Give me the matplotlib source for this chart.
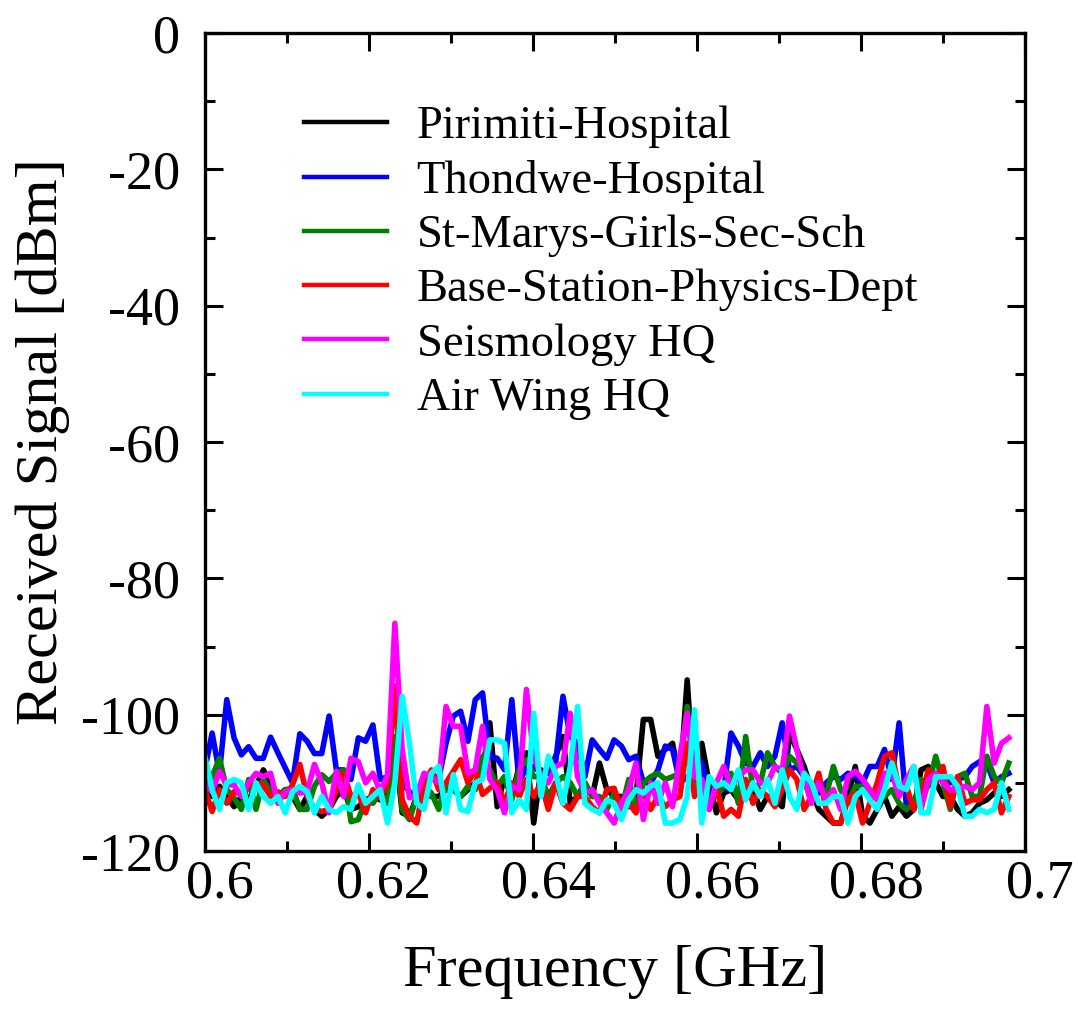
import numpy as np
import matplotlib.pyplot as plt
from matplotlib.ticker import MultipleLocator
from matplotlib.transforms import ScaledTranslation

plt.rcParams['font.family'] = ['Liberation Serif', 'DejaVu Serif']

# sweep frequencies [GHz] (111 points, 0.6 - 0.698)
freq = np.linspace(0.6, 0.698, 111)

labels = ["Pirimiti-Hospital", "Thondwe-Hospital", "St-Marys-Girls-Sec-Sch",
          "Base-Station-Physics-Dept", "Seismology HQ", "Air Wing HQ"]
colors = ['#000000', '#0000ff', '#008000', '#ff0000', '#ff00ff', '#00ffff']

# received signal [dBm]
pirimiti = [-110.0, -112.0, -110.5, -112.0, -113.5, -112.0, -112.5, -110.5, -108.1, -110.0,
            -112.0, -111.0, -112.0, -113.9, -112.0, -113.9, -114.9, -113.9, -112.0,
            -111.0, -113.9, -113.5, -112.5, -112.0, -112.5, -111.0, -104.2, -114.4, -114.9,
            -112.0, -111.0, -112.0, -112.0, -111.0, -111.0, -112.0, -111.0, -110.0,
            -108.1, -101.2, -113.5, -109.1, -112.0, -107.6, -105.6, -115.9, -108.1, -108.6,
            -106.1, -103.2, -113.0, -112.0, -110.0, -112.0, -107.1, -111.0, -112.0,
            -112.0, -113.5, -112.0, -100.7, -100.7, -106.1, -105.1, -104.2, -110.0, -94.9,
            -111.0, -104.2, -110.0, -114.4, -111.5, -111.0, -112.5, -112.0,
            -111.0, -113.9, -112.0, -112.5, -113.5, -102.7, -105.1, -107.6, -111.0, -113.9,
            -114.9, -115.9, -115.9, -112.0, -107.6, -114.9, -115.9, -113.9, -112.0,
            -114.9, -113.5, -114.9, -113.9, -108.1, -107.6, -110.0, -112.0, -112.0, -113.9,
            -114.9, -114.4, -113.0, -112.5, -111.5, -112.0, -111.0]

thondwe = [-108.1, -102.7, -108.6, -97.8, -103.4, -105.9, -104.7, -106.4, -106.4, -103.3,
           -105.6, -107.8, -110.0, -102.8, -103.9, -105.7, -105.7, -100.2, -108.1,
           -108.1, -109.5, -103.4, -103.9, -101.5, -109.5, -109.1, -105.1, -110.0, -111.3,
           -112.0, -110.0, -108.6, -109.5, -104.2, -100.2, -99.5, -103.9, -97.8,
           -96.8, -106.1, -106.4, -108.1, -97.8, -110.0, -107.6, -107.6, -108.6, -108.6,
           -107.1, -97.3, -103.2, -104.2, -109.1, -103.7, -105.1, -106.4, -103.7,
           -104.6, -106.6, -106.1, -110.0, -110.0, -108.1, -104.6, -105.1, -110.0, -109.1,
           -110.0, -107.1, -112.5, -110.0, -111.0, -102.7, -104.6, -107.1,
           -107.6, -105.6, -107.6, -106.1, -101.2, -108.1, -107.6, -109.1, -111.0, -111.5,
           -110.0, -109.1, -109.5, -108.6, -109.1, -110.0, -107.6, -107.6, -105.1,
           -109.5, -101.2, -113.5, -112.5, -113.0, -110.0, -108.6, -109.1, -110.0, -109.5,
           -109.1, -107.6, -106.9, -107.1, -110.0, -109.1, -108.6]

st_marys = [-110.5, -109.1, -106.4, -111.0, -112.2, -113.9, -109.5, -113.9, -109.5, -111.3,
            -112.0, -111.0, -110.8, -113.9, -113.9, -110.5, -108.8, -109.8, -108.6,
            -108.1, -115.7, -115.4, -112.5, -113.0, -111.3, -113.0, -103.2, -113.9, -115.4,
            -112.0, -110.5, -111.5, -113.9, -110.0, -111.0, -112.0, -110.5, -111.0,
            -106.1, -108.1, -110.5, -109.1, -112.5, -108.1, -106.6, -109.1, -109.1, -112.0,
            -110.0, -109.1, -110.0, -112.0, -110.0, -112.0, -112.0, -113.9, -111.5,
            -113.9, -109.5, -113.9, -110.0, -109.1, -108.6, -109.5, -109.1, -108.6, -98.8,
            -109.5, -111.0, -112.0, -112.0, -110.5, -108.6, -113.0, -103.2,
            -111.0, -110.0, -105.6, -107.6, -108.6, -106.1, -107.1, -108.6, -112.0, -110.0,
            -112.0, -107.6, -111.0, -113.0, -110.5, -110.5, -112.0, -111.0, -112.0,
            -111.0, -113.0, -113.9, -113.0, -109.5, -110.5, -106.1, -110.0, -113.9, -109.1,
            -108.6, -112.0, -112.0, -106.1, -109.1, -110.0, -107.1]

base_station = [-111.0, -114.2, -111.0, -113.0, -111.3, -111.7, -110.5, -110.0, -110.3, -112.0,
                -111.3, -112.0, -110.3, -107.3, -112.0, -113.9, -114.2, -113.9, -111.0,
                -108.6, -112.0, -111.5, -114.4, -111.0, -112.2, -110.0, -95.8, -112.5, -114.9,
                -115.9, -110.0, -108.1, -111.0, -110.0, -108.3, -106.6, -110.0, -108.1,
                -111.7, -110.8, -110.0, -113.0, -110.0, -112.0, -109.5, -112.0, -110.0, -113.9,
                -110.0, -113.0, -113.9, -112.0, -112.0, -113.5, -114.4, -111.0, -110.8,
                -113.9, -113.0, -114.4, -111.0, -113.9, -112.0, -113.5, -112.5, -112.0, -104.2,
                -112.0, -109.5, -113.9, -110.5, -114.9, -113.9, -114.9, -109.5,
                -113.0, -111.0, -112.0, -113.5, -111.0, -108.1, -109.5, -113.9, -112.0, -108.6,
                -113.9, -115.9, -115.9, -112.5, -111.5, -115.9, -113.0, -110.0, -106.1,
                -105.6, -111.0, -110.5, -113.9, -112.0, -108.1, -110.0, -107.6, -113.5, -109.1,
                -113.0, -112.5, -112.5, -111.0, -110.0, -114.4, -112.0]

seismology = [-110.0, -111.3, -108.3, -110.3, -110.3, -112.0, -110.0, -108.6, -109.1, -108.6,
              -113.0, -111.3, -111.0, -111.5, -111.3, -107.3, -110.0, -114.4, -108.3,
              -112.0, -106.4, -106.9, -110.0, -108.6, -111.3, -108.8, -86.6, -105.1, -112.2,
              -111.7, -108.6, -109.3, -110.0, -98.8, -101.7, -101.7, -108.6, -108.1,
              -101.7, -109.5, -111.0, -114.4, -110.5, -111.0, -96.3, -106.1, -109.1, -110.0,
              -107.6, -107.1, -99.8, -109.1, -111.5, -111.0, -113.0, -114.4, -115.9,
              -113.0, -111.0, -107.1, -115.4, -110.0, -113.0, -110.0, -113.5, -106.1, -99.8,
              -109.1, -109.5, -113.9, -110.0, -107.6, -110.5, -109.1, -108.1,
              -108.1, -110.0, -110.0, -107.6, -108.1, -100.2, -105.1, -109.5, -113.0, -110.0,
              -112.5, -111.0, -113.9, -109.1, -108.3, -109.5, -111.0, -112.5, -108.6,
              -108.6, -112.0, -109.5, -107.6, -113.9, -109.5, -108.6, -110.0, -111.0, -111.0,
              -110.5, -111.0, -110.0, -98.8, -107.1, -104.2, -103.4]

air_wing = [-106.1, -111.0, -113.9, -110.0, -109.5, -110.0, -113.9, -110.0, -112.0, -113.0,
            -112.0, -114.4, -111.3, -110.5, -111.3, -114.4, -112.0, -113.9, -114.4,
            -113.5, -113.9, -110.3, -113.0, -112.0, -111.0, -115.9, -110.0, -97.3, -104.2,
            -113.0, -113.9, -108.6, -107.6, -114.4, -108.8, -113.9, -114.2, -110.0,
            -109.5, -103.7, -103.7, -104.2, -114.4, -112.5, -113.9, -99.8, -112.0, -106.1,
            -108.6, -113.0, -107.6, -98.8, -113.0, -113.9, -114.4, -112.5, -113.0,
            -115.4, -112.5, -111.0, -111.5, -110.5, -110.0, -115.9, -115.9, -115.4, -112.0,
            -99.3, -115.9, -109.1, -110.5, -110.0, -111.0, -108.1, -112.5,
            -110.0, -112.0, -109.5, -113.0, -108.1, -112.0, -113.9, -108.6, -110.0, -113.0,
            -113.0, -112.0, -112.0, -115.9, -112.0, -111.0, -112.5, -113.9, -111.0,
            -107.1, -110.5, -111.0, -107.6, -114.4, -114.4, -109.1, -109.1, -109.1, -110.5,
            -114.9, -114.9, -113.9, -114.4, -113.9, -110.0, -113.9]

series = [pirimiti, thondwe, st_marys, base_station, seismology, air_wing]

# --- figure ---
fig = plt.figure(figsize=(10.78, 10.16), dpi=100)
ax = fig.add_axes([0.190, 0.1624, 0.761, 0.8051])

for vals, lab, col in zip(series, labels, colors):
    ax.plot(freq, vals, color=col, lw=4.0, label=lab)

ax.set_xlim(0.6, 0.7)
ax.set_ylim(-120, 0)
ax.xaxis.set_major_locator(MultipleLocator(0.02))
ax.xaxis.set_minor_locator(MultipleLocator(0.01))
ax.yaxis.set_major_locator(MultipleLocator(20))
ax.yaxis.set_minor_locator(MultipleLocator(10))
ax.xaxis.set_major_formatter(plt.FuncFormatter(lambda v, p: f"{v:g}"))
ax.yaxis.set_major_formatter(plt.FuncFormatter(lambda v, p: f"{v:g}"))

for s in ax.spines.values():
    s.set_linewidth(2.4)
ax.tick_params(which='both', direction='in', top=True, right=True, width=2.2)
ax.tick_params(which='major', length=13)
ax.tick_params(which='minor', length=7)
ax.tick_params(axis='x', which='major', labelsize=39, pad=6)
ax.tick_params(axis='y', which='major', labelsize=39, pad=18)

# x labels in the original sit a bit right of their ticks
shift = ScaledTranslation(0.15, 0, fig.dpi_scale_trans)
for t in ax.get_xticklabels():
    t.set_transform(t.get_transform() + shift)

ax.set_xlabel("Frequency [GHz]", fontsize=43.5, labelpad=25)
ax.set_ylabel("Received Signal [dBm]", fontsize=43.5, labelpad=8)

leg = ax.legend(loc='upper left', bbox_to_anchor=(0.121, 0.911), frameon=False,
                fontsize=33.5, handlelength=1.78, handletextpad=0.64,
                labelspacing=0.25, borderpad=0, borderaxespad=0)
for h in leg.get_lines():
    h.set_linewidth(3.2)

#save
fig.savefig('out.png', dpi=100)
